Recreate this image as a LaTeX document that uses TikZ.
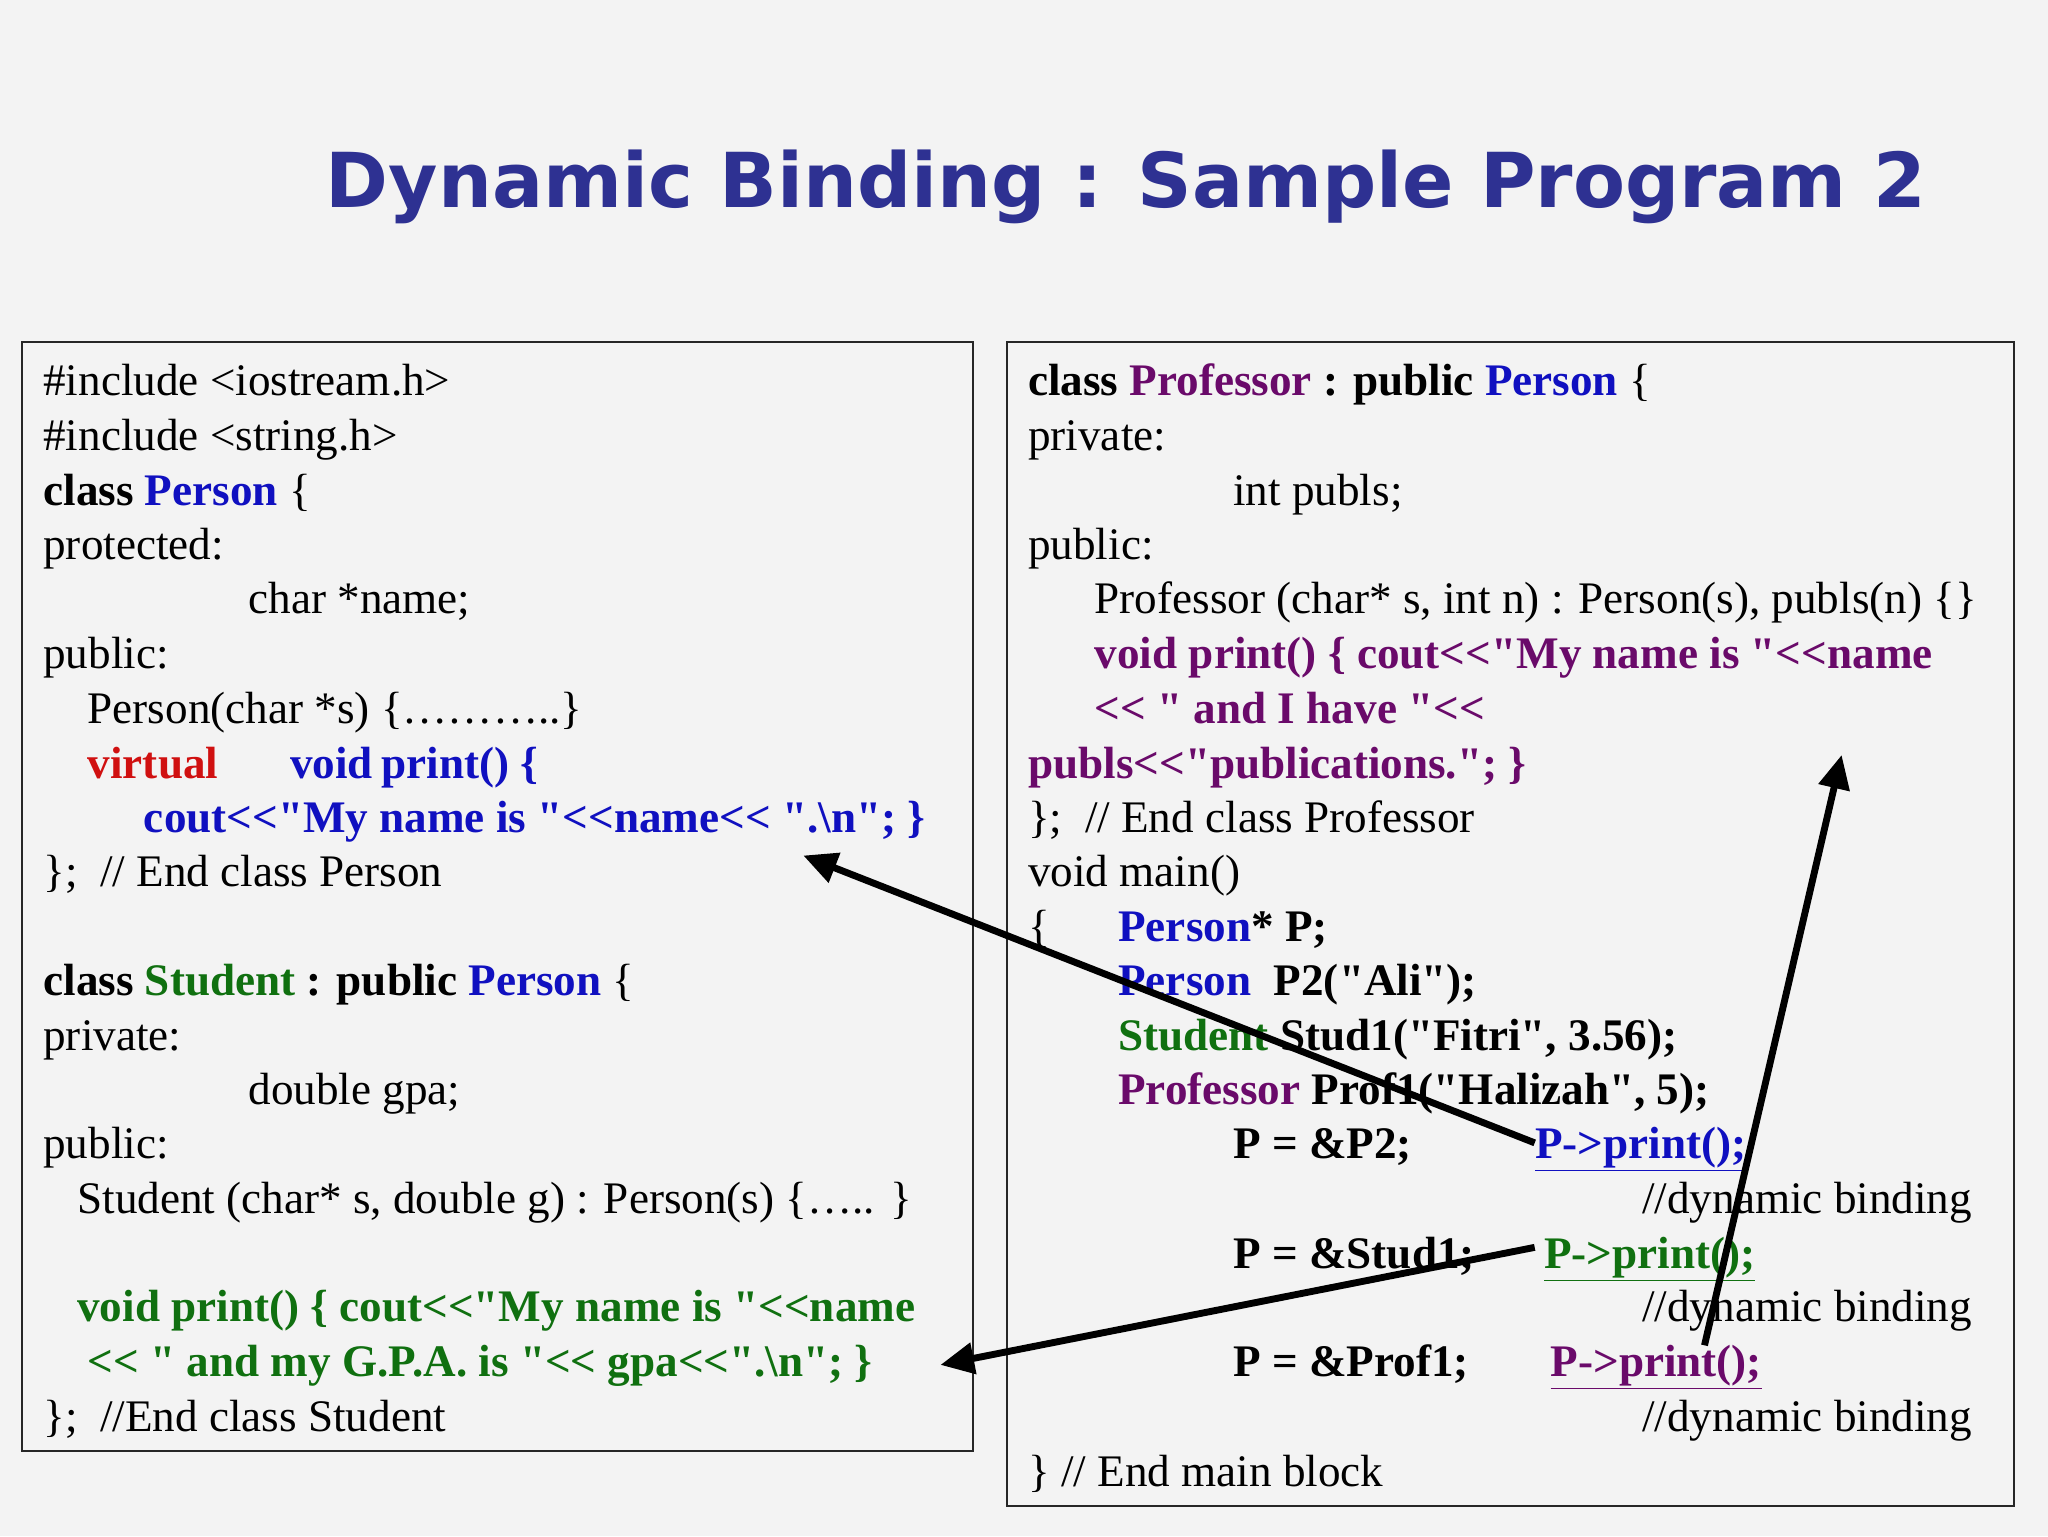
\documentclass[tikz,border=0pt]{standalone}
\usepackage{fontspec}
\setmainfont{Liberation Serif}[Ligatures=TeXOff]
\newfontfamily\titlefont{DejaVu Sans}
\usetikzlibrary{arrows.meta}
\definecolor{bg}{HTML}{F3F3F3}
\definecolor{tblue}{HTML}{2E3192}
\definecolor{kb}{HTML}{1010C0}
\definecolor{kp}{HTML}{6A0A6A}
\definecolor{kg}{HTML}{107010}
\definecolor{kr}{HTML}{D01010}
\tikzset{code/.style={anchor=base west,inner sep=0pt,font=\fontsize{29.5}{35}\selectfont},
 coderight/.style={anchor=base east,inner sep=0pt,font=\fontsize{29.5}{35}\selectfont},
 panel/.style={draw=black!85,line width=1.5pt},
 bigarrow/.style={line width=4.5pt,-{Triangle[length=22pt,width=20pt]}}}
\begin{document}
\begin{tikzpicture}[x=0.03cm,y=-0.03cm]
\useasboundingbox[fill=bg] (0,0) rectangle (1568,1176);
\node[inner sep=0pt,text=tblue] (title) at (862,143) {\resizebox{36.75cm}{!}{\titlefont\bfseries\fontsize{62}{70}\selectfont Dynamic Binding : Sample Program 2}};
\draw[panel,fill=bg] (17,262) rectangle (745,1111);
\draw[panel,fill=bg] (771,262) rectangle (1542,1153);
% left
\node[code] (a1) at (33,303) {\#include <iostream.h>};
\node[code] (a2) at (33,345) {\#include <string.h>};
\node[code] (a3) at (33,387) {\textbf{class} \textcolor{kb}{\textbf{Person}} \{};
\node[code] (a4) at (33,428) {protected:};
\node[code] (a5) at (190,470) {char *name;};
\node[code] (a6) at (33,512) {public:};
\node[code] (a7) at (67,554) {Person(char *s) \{\dots\dots\dots..\}};
\node[code] (a8) at (67,596) {\textbf{\textcolor{kr}{virtual}}};
\node[code] (a8b) at (222,596) {\textbf{\textcolor{kb}{void}}};
\node[code] (a8c) at (292,596) {\textbf{\textcolor{kb}{print() \{}}};
\node[code] (a9) at (110,637) {\textbf{\textcolor{kb}{cout<<"My name is "<<name<< ".\textbackslash n"; \}}}};
\node[code] (a10) at (33,679) {\};~ // End class Person};
\node[code] (a11) at (33,762) {\textbf{class} \textbf{\textcolor{kg}{Student}} \textbf{: public} \textbf{\textcolor{kb}{Person}} \{};
\node[code] (a12) at (33,804) {private:};
\node[code] (a13) at (190,846) {double gpa;};
\node[code] (a14) at (33,887) {public:};
\node[code] (a15) at (59,929) {Student (char* s, double g) : Person(s) \{\dots.. \}};
\node[code] (a16) at (59,1012) {\textbf{\textcolor{kg}{void print() \{ cout<<"My name is "<<name}}};
\node[code] (a17) at (67,1054) {\textbf{\textcolor{kg}{<< " and my G.P.A. is "<< gpa<<".\textbackslash n"; \}}}};
\node[code] (a18) at (33,1096) {\};~ //End class Student};
% right
\node[code] (b1) at (787,303) {\textbf{class} \textbf{\textcolor{kp}{Professor}} \textbf{: public} \textbf{\textcolor{kb}{Person}} \{};
\node[code] (b2) at (787,345) {private:};
\node[code] (b3) at (944,387) {int publs;};
\node[code] (b4) at (787,428) {public:};
\node[code] (b5) at (838,470) {Professor (char* s, int n) : Person(s), publs(n) \{\}};
\node[code] (b6) at (838,512) {\textbf{\textcolor{kp}{void print() \{ cout<<"My name is "<<name}}};
\node[code] (b7) at (838,554) {\textbf{\textcolor{kp}{<< " and I have "<<}}};
\node[code] (b8) at (787,596) {\textbf{\textcolor{kp}{publs<<"publications."; \}}}};
\node[code] (b9) at (787,637) {\};~ // End class Professor};
\node[code] (b10) at (787,679) {void main()};
\node[code] (b11) at (787,721) {\{};
\node[code] (b11b) at (856,721) {\textbf{\textcolor{kb}{Person}* P;}};
\node[code] (b12) at (856,762) {\textbf{\textcolor{kb}{Person}~ P2("Ali");}};
\node[code] (b13) at (856,804) {\textbf{\textcolor{kg}{Student} Stud1("Fitri", 3.56);}};
\node[code] (b14) at (856,846) {\textbf{\textcolor{kp}{Professor} Prof1("Halizah", 5);}};
\node[code] (b15) at (944,887) {\textbf{P = \&P2;}};
\node[code] (b15b) at (1175,887) {\textbf{\textcolor{kb}{\underline{P->print();}}}};
\node[coderight] (b16) at (1510,929) {//dynamic binding};
\node[code] (b17) at (944,971) {\textbf{P = \&Stud1;}};
\node[code] (b17b) at (1182,971) {\textbf{\textcolor{kg}{\underline{P->print();}}}};
\node[coderight] (b18) at (1510,1012) {//dynamic binding};
\node[code] (b19) at (944,1054) {\textbf{P = \&Prof1;}};
\node[code] (b19b) at (1187,1054) {\textbf{\textcolor{kp}{\underline{P->print();}}}};
\node[coderight] (b20) at (1510,1096) {//dynamic binding};
\node[code] (b21) at (787,1138) {\} // End main block};
% arrows
\coordinate (s1) at (1175,875); \coordinate (e1) at (615,655);
\coordinate (s2) at (1175,955); \coordinate (e2) at (720,1045);
\coordinate (s3) at (1305,1030); \coordinate (e3) at (1410,578);
\draw[bigarrow] (s1) -- (e1);
\draw[bigarrow] (s2) -- (e2);
\draw[bigarrow] (s3) -- (e3);
\end{tikzpicture}
\end{document}
